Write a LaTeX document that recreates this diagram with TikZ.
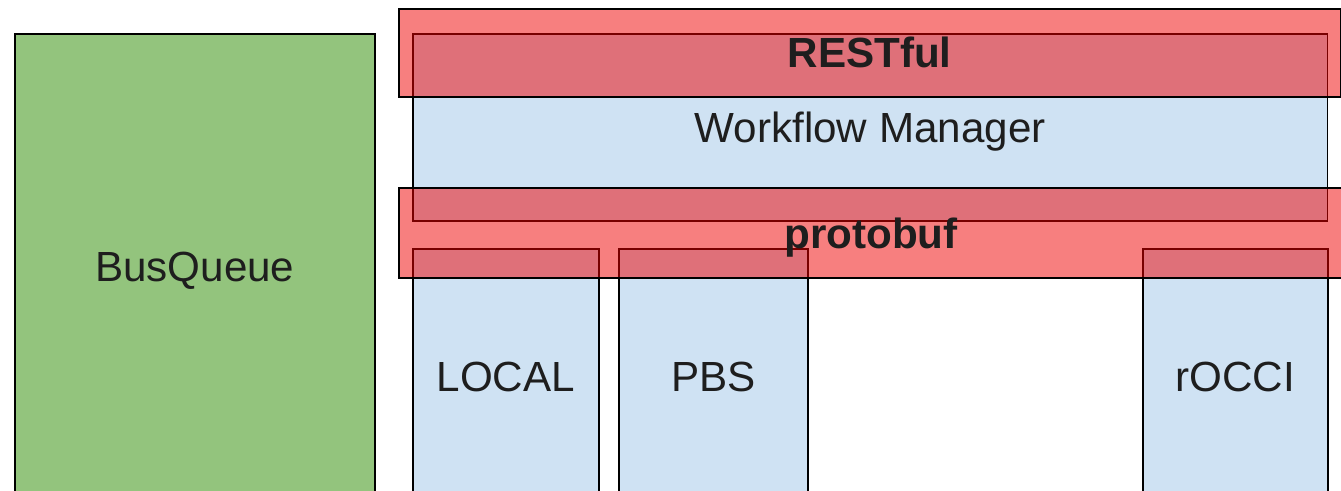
\documentclass[tikz,border=0pt]{standalone}
\usepackage{fontspec}
\setmainfont{Liberation Sans}
\usetikzlibrary{positioning}
\definecolor{busgreen}{RGB}{147,196,125}
\definecolor{mgrblue}{RGB}{207,226,243}
\definecolor{protored}{RGB}{240,0,0}
\definecolor{inkgray}{RGB}{30,30,30}
\tikzset{
  layer/.style={draw=black, line width=0.9pt, anchor=north west, inner sep=0pt,
               text=inkgray, font=\fontsize{24}{28}\selectfont,
               text height=22pt, text depth=5pt},
  qbox/.style={layer, fill=busgreen},
  mbox/.style={layer, fill=mgrblue},
  rbox/.style={layer, fill=protored, fill opacity=0.5, text opacity=1,
               font=\fontsize{24}{28}\selectfont\bfseries},
}

\begin{document}
\begin{tikzpicture}[x=0.02cm, y=-0.02cm]
    \clip (0,0) rectangle (1341,490);
    \node[qbox, minimum width=7.2cm, minimum height=9.32cm] (bus) at (14,33) {BusQueue};
    \node[mbox, minimum width=18.3cm, minimum height=3.74cm] (wfm) at (412,33) {Workflow Manager};
    \node[mbox, minimum width=3.72cm, minimum height=5.12cm] (local) at (412,248) {LOCAL};
    \node[mbox, minimum width=3.78cm, minimum height=5.12cm] (pbs) at (618,248) {PBS};
    \node[mbox, minimum width=3.7cm, minimum height=5.12cm] (occi) at (1142,248) {rOCCI};
    % translucent interface layers on top
    \node[rbox, minimum width=18.84cm, minimum height=1.76cm] (rest) at (398,8) {RESTful};
    \node[rbox, minimum width=19.2cm, minimum height=1.8cm] (proto) at (398,187) {};
    \node[text=inkgray, font=\fontsize{24}{28}\selectfont\bfseries,
          text height=22pt, text depth=5pt] (protolbl) at (871,234) {protobuf};
  \end{tikzpicture}
\end{document}
